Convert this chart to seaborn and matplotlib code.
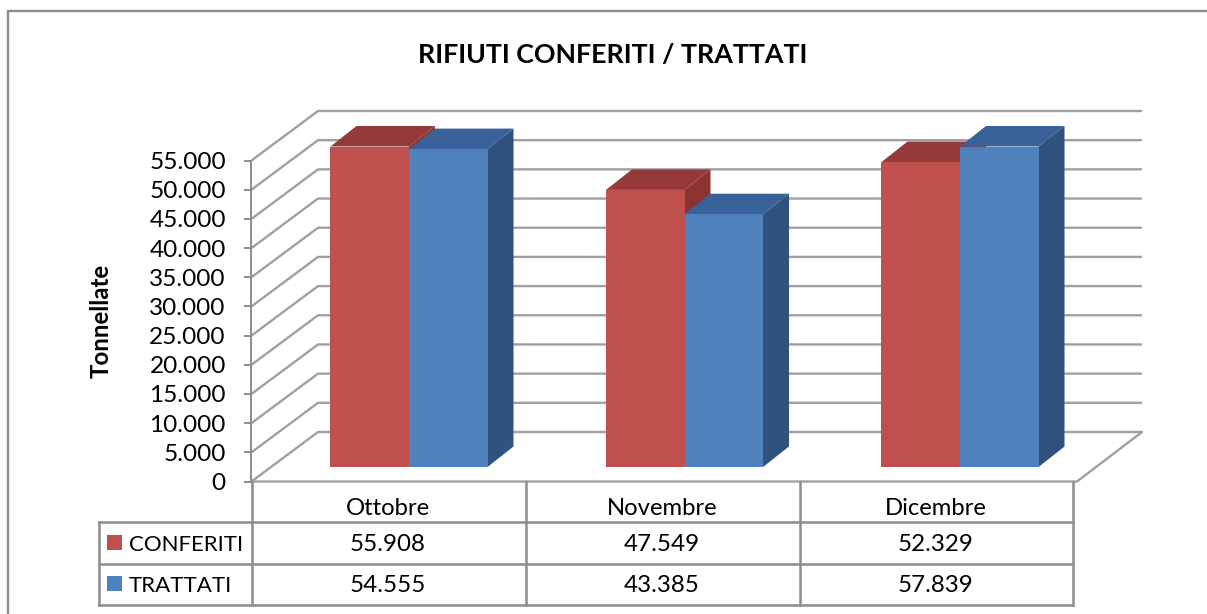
import matplotlib
matplotlib.use("Agg")
import matplotlib.pyplot as plt
from matplotlib.patches import Polygon, Rectangle
from matplotlib.ticker import FuncFormatter
import pandas as pd
import seaborn as sns

months = ["Ottobre", "Novembre", "Dicembre"]
series_names = ["CONFERITI", "TRATTATI"]
conferiti = [55908, 47549, 52329]
trattati = [54555, 43385, 57839]
y_ticks = list(range(0, 55001, 5000))
title = "RIFIUTI CONFERITI / TRATTATI"
y_label = "Tonnellate"

front_colors = ["#C0504D", "#4F81BD"]
top_colors = ["#96393A", "#39629A"]
side_colors = ["#8C3432", "#30527F"]
grid_color = "#A0A0A0"
line_color = "#8C8C8C"
FONT = "Lato"
W, H = 1207, 614
Y_MAX = 55000

sns.set_theme(style="white")
plt.rcParams["font.family"] = [FONT, "DejaVu Sans"]

fig = plt.figure(figsize=(W / 100, H / 100), dpi=100, facecolor="white")


def px_axes(x0, x1, ytop, ybottom):
    return fig.add_axes([x0 / W, 1 - ybottom / H, (x1 - x0) / W, (ybottom - ytop) / H])


def fmt(v):
    return f"{v:,.0f}".replace(",", ".")


# ---- walls, floor and value axis (x in pixels, y in tonnes)
ax_wall = px_axes(251.5, 1142, 160.5, 481.5)
ax_wall.set_xlim(251.5, 1142)
ax_wall.set_ylim(0, Y_MAX)
ax_wall.patch.set_alpha(0)
for s in ax_wall.spines.values():
    s.set_visible(False)
wall_dy = 49.5 / 321 * Y_MAX
wall_x = [251.5, 318, 1142]
for v in y_ticks:
    ax_wall.plot(wall_x, [v, v + wall_dy, v + wall_dy], color=grid_color, lw=1.7,
                 clip_on=False, solid_capstyle="butt", zorder=1)
ax_wall.plot([1142, 1077, 251.5], [wall_dy, 0, 0], color=grid_color, lw=1.7,
             clip_on=False, zorder=1)
ax_wall.plot([251.5, 251.5], [0, Y_MAX], color=line_color, lw=1.4, clip_on=False, zorder=2)
ax_wall.set_xticks([])
ax_wall.set_yticks(y_ticks)
ax_wall.yaxis.set_major_formatter(FuncFormatter(lambda v, _: fmt(v)))
ax_wall.tick_params(axis="y", left=True, length=5.5, width=1.4, color=line_color, pad=13,
                    labelsize=17.6, labelcolor="black")

# ---- bars, drawn with seaborn in the plane of the bar fronts
df = pd.DataFrame({
    "Mese": months * 2,
    "Serie": [series_names[0]] * 3 + [series_names[1]] * 3,
    "Tonnellate": conferiti + trattati,
})
ax = px_axes(271.25, 1097.75, 146.5, 467)
ax.patch.set_alpha(0)
sns.barplot(data=df, x="Mese", y="Tonnellate", hue="Serie", hue_order=series_names,
            order=months, palette=front_colors, saturation=1, width=0.57, gap=0,
            legend=False, ax=ax, linewidth=0, errorbar=None)
ax.set_xlim(-0.5, 2.5)
ax.set_ylim(0, Y_MAX)
ax.axis("off")

dx = 26 / 275.5
dy = 20.5 / 320.5 * Y_MAX
for k, container in enumerate(ax.containers):
    for i, bar in enumerate(container.patches):
        x0, x1 = bar.get_x(), bar.get_x() + bar.get_width()
        h = min(bar.get_height(), Y_MAX)
        z = 3 + k + 0.1 * i
        ax.add_patch(Polygon([(x0, h), (x1, h), (x1 + dx, h + dy), (x0 + dx, h + dy)],
                             closed=True, fc=top_colors[k], ec="none", clip_on=False, zorder=z))
        ax.add_patch(Polygon([(x1, 0), (x1 + dx, dy), (x1 + dx, h + dy), (x1, h)],
                             closed=True, fc=side_colors[k], ec="none", clip_on=False, zorder=z))
        bar.set_zorder(z + 0.05)

# ---- overlay in pixel coordinates: frame, title, data table
ov = px_axes(0, W, 0, H)
ov.set_xlim(0, W)
ov.set_ylim(H, 0)
ov.axis("off")
ov.patch.set_alpha(0)
ov.plot([7.5, 7.5, W], [H, 11, 11], color=line_color, lw=1.7, solid_joinstyle="miter")

ov.text(613, 55, title, ha="center", va="center", fontsize=19.3, fontweight="bold", color="black")
ov.text(101, 321, y_label, ha="center", va="center", rotation=90, fontsize=17.4,
        fontweight="bold", color="black")

col_x = [251.5, 526, 800, 1073]
row_y = [482, 522, 563.5, 604.5]
tbl_left = 99
kw = dict(color=line_color, lw=1.8, solid_capstyle="projecting")
for x in col_x:
    ov.plot([x, x], [row_y[0], row_y[-1]], **kw)
ov.plot([tbl_left, tbl_left], [row_y[1], row_y[-1]], **kw)
for y in row_y[1:]:
    ov.plot([tbl_left, col_x[-1]], [y, y], **kw)

text_kw = dict(fontsize=17.4, color="black", va="baseline")
centers = [(col_x[i] + col_x[i + 1]) / 2 for i in range(3)]
for cx, m, a, b in zip(centers, months, conferiti, trattati):
    ov.text(cx - 1, 515, m, ha="center", **{**text_kw, "fontsize": 17.2})
    ov.text(cx - 1, 551, fmt(a), ha="center", **text_kw)
    ov.text(cx - 1, 592, fmt(b), ha="center", **text_kw)
for name, color, top, base in zip(series_names, front_colors, [535, 576], [551, 592]):
    ov.add_patch(Rectangle((107, top), 15, 15, fc=color, ec="none"))
    ov.text(129, base, name, ha="left", **{**text_kw, "fontsize": 16})

fig.savefig("out.png", dpi=100, facecolor="white")
